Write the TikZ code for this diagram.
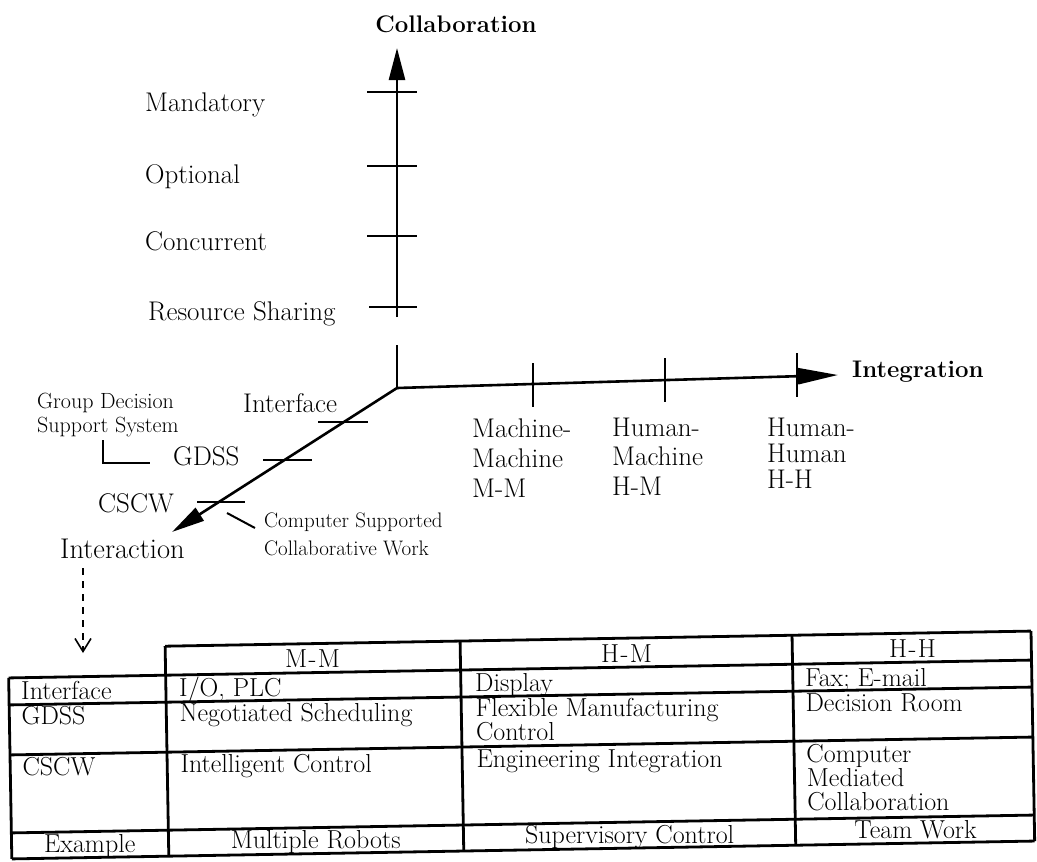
\documentclass[tikz,border=0pt]{standalone}
\usetikzlibrary{arrows.meta}
\tikzset{
  axisline/.style={line width=2.6pt},
  ticksty/.style={line width=2.4pt},
  thinline/.style={line width=2pt},
  tblline/.style={line width=2.8pt},
  lab/.style={font=\fontsize{27}{30}\selectfont, inner sep=0pt},
  biglab/.style={font=\fontsize{28.5}{32}\selectfont, inner sep=0pt},
  ttl/.style={font=\bfseries\fontsize{24}{28}\selectfont, inner sep=0pt},
  smalllab/.style={font=\fontsize{21}{24}\selectfont, inner sep=0pt},
  gdlab/.style={font=\fontsize{22}{24}\selectfont, inner sep=0pt},
  cell/.style={font=\fontsize{26}{24}\selectfont, inner sep=0pt, anchor=base west},
  ccell/.style={font=\fontsize{26}{24}\selectfont, inner sep=0pt, anchor=base},
}
\begin{document}
\begin{tikzpicture}[x=1pt,y=-1pt]
\useasboundingbox (0,0) rectangle (1037,862);

% ---------- axes ----------
\coordinate (O) at (397,388);
\coordinate (Vbot) at (397,317);
\coordinate (Vtop) at (397,48);
\coordinate (Stub) at (397,345);
\coordinate (Htip) at (838,375);
\coordinate (Dtip) at (172,532);

\draw[axisline,-{Triangle[length=32pt,width=16pt]}] (Vbot) -- (Vtop);
\draw[axisline] (Stub) -- (O);
\draw[axisline,-{Triangle[length=40pt,width=16pt]}] (O) -- (Htip);
\draw[axisline,-{Triangle[length=33pt,width=15pt]}] (O) -- (Dtip);

% vertical axis ticks
\foreach \yy in {92,166,236} \draw[ticksty] (367,\yy) -- (417,\yy);
\draw[ticksty] (369,307) -- (417,307);
% horizontal axis ticks
\draw[ticksty] (533,363) -- (533,407);
\draw[ticksty] (665,358) -- (665,402);
\draw[ticksty] (797,353) -- (797,397);
% diagonal axis ticks
\draw[ticksty] (318,422) -- (368,422);
\draw[ticksty] (263,460) -- (312,460);
\draw[ticksty] (197,502) -- (245,502);

% axis titles
\node[ttl,anchor=base] (collab) at (456,32) {Collaboration};
\node[ttl,anchor=base west] (integ) at (852,377) {Integration};
\node[biglab,anchor=base west] (inter) at (60,558) {Interaction};

% collaboration levels
\node[lab,anchor=base west] (mand) at (145,111) {Mandatory};
\node[lab,anchor=base west] (opt) at (145,183) {Optional};
\node[lab,anchor=base west] (conc) at (145,250) {Concurrent};
\node[lab,anchor=base west] (res) at (148,320) {Resource Sharing};

% integration levels
\node[lab,anchor=base west] (mm1) at (472,437) {Machine-};
\node[lab,anchor=base west] (mm2) at (472,467) {Machine};
\node[lab,anchor=base west] (mm3) at (472,497) {M-M};
\node[lab,anchor=base west] (hm1) at (612,436) {Human-};
\node[lab,anchor=base west] (hm2) at (612,465) {Machine};
\node[lab,anchor=base west] (hm3) at (612,495) {H-M};
\node[lab,anchor=base west] (hh1) at (767,436) {Human-};
\node[lab,anchor=base west] (hh2) at (767,462) {Human};
\node[lab,anchor=base west] (hh3) at (767,488) {H-H};

% interaction levels
\node[lab,anchor=base west] (iface) at (243,412) {Interface};
\node[lab,anchor=base west] (gdss) at (173,465) {GDSS};
\node[lab,anchor=base west] (cscw) at (98,512) {CSCW};

% explanations
\node[gdlab,anchor=base west] (gd1) at (37,408) {Group Decision};
\node[gdlab,anchor=base west] (gd2) at (37,432) {Support System};
\coordinate (b1) at (103,440);
\coordinate (b2) at (103,463);
\coordinate (b3) at (150,463);
\draw[thinline] (b1) -- (b2) -- (b3);
\node[smalllab,anchor=base west] (cs1) at (264,527) {Computer Supported};
\node[smalllab,anchor=base west] (cs2) at (264,555) {Collaborative Work};
\coordinate (s1) at (227,513);
\coordinate (s2) at (255,528);
\draw[thinline] (s1) -- (s2);

% dashed arrow to table
\coordinate (d1) at (83,568);
\coordinate (d2) at (83,653);
\draw[line width=1.6pt,dash pattern=on 7pt off 6pt,-{Straight Barb[length=13pt,width=16pt,line width=1.6pt]}] (d1) -- (d2);

% ---------- table ----------
\begin{scope}[rotate around={1.0:(521,750)}]
\def\ca{10}\def\cb{167}\def\cc{462}\def\cd{794}\def\ce{1033}
\def\ra{640}\def\rb{669}\def\rc{696}\def\rd{746}\def\re{824}\def\rf{850}
\draw[tblline] (\cb,\ra) -- (\ce,\ra);
\foreach \rr in {\rb,\rc,\rd,\re,\rf} \draw[tblline] (\ca,\rr) -- (\ce,\rr);
\draw[tblline] (\ca,\rb) -- (\ca,\rf);
\foreach \cx in {\cb,\cc,\cd,\ce} \draw[tblline] (\cx,\ra) -- (\cx,\rf);

\node[ccell] (hmm) at (314,664) {M\kern1.5pt-\kern1.5pt M};
\node[ccell] (hhm) at (628,664) {H\kern1.5pt-\kern1.5pt M};
\node[ccell] (hhh) at (914,664) {H\kern1.5pt-\kern1.5pt H};

\node[cell] (t11) at (22,691) {Interface};
\node[cell] (t12) at (180,691) {I/O, PLC};
\node[cell] (t13) at (476,691) {Display};
\node[cell] (t14) at (806,691) {Fax; E-mail};

\node[cell] (t21) at (22,716) {GDSS};
\node[cell] (t22) at (180,716) {Negotiated Scheduling};
\node[cell] (t23) at (476,716) {Flexible Manufacturing};
\node[cell] (t23b) at (476,740) {Control};
\node[cell] (t24) at (806,716) {Decision Room};

\node[cell] (t31) at (22,767) {CSCW};
\node[cell] (t32) at (180,767) {Intelligent Control};
\node[cell] (t33) at (476,767) {Engineering Integration};
\node[cell] (t34) at (806,767) {Computer};
\node[cell] (t34b) at (806,791) {Mediated};
\node[cell] (t34c) at (806,815) {Collaboration};

\node[ccell] (t41) at (88,845) {Example};
\node[ccell] (t42) at (314,845) {Multiple Robots};
\node[ccell] (t43) at (628,845) {Supervisory Control};
\node[ccell] (t44) at (914,845) {Team Work};
\end{scope}
\end{tikzpicture}
\end{document}
